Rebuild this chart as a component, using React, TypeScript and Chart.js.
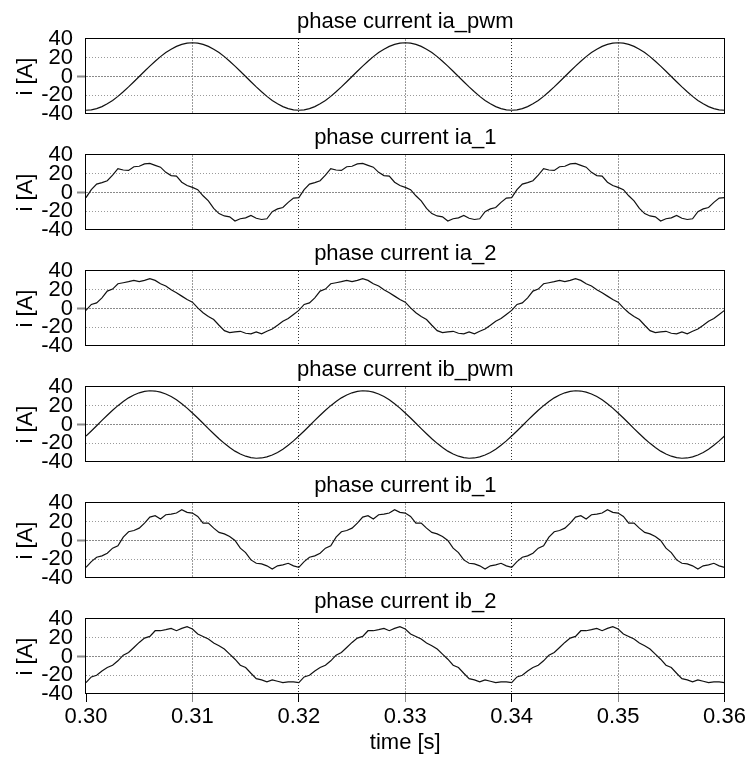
import React, { useEffect, useRef } from "react";
import { Chart, registerables } from "chart.js";

Chart.register(...registerables);

const time = [
  0.3, 0.3005, 0.301, 0.3015, 0.302, 0.3025, 0.303, 0.3035, 0.304, 0.3045,
  0.305, 0.3055, 0.306, 0.3065, 0.307, 0.3075, 0.308, 0.3085, 0.309, 0.3095,
  0.31, 0.3105, 0.311, 0.3115, 0.312, 0.3125, 0.313, 0.3135, 0.314, 0.3145,
  0.315, 0.3155, 0.316, 0.3165, 0.317, 0.3175, 0.318, 0.3185, 0.319, 0.3195,
  0.32, 0.3205, 0.321, 0.3215, 0.322, 0.3225, 0.323, 0.3235, 0.324, 0.3245,
  0.325, 0.3255, 0.326, 0.3265, 0.327, 0.3275, 0.328, 0.3285, 0.329, 0.3295,
  0.33, 0.3305, 0.331, 0.3315, 0.332, 0.3325, 0.333, 0.3335, 0.334, 0.3345,
  0.335, 0.3355, 0.336, 0.3365, 0.337, 0.3375, 0.338, 0.3385, 0.339, 0.3395,
  0.34, 0.3405, 0.341, 0.3415, 0.342, 0.3425, 0.343, 0.3435, 0.344, 0.3445,
  0.345, 0.3455, 0.346, 0.3465, 0.347, 0.3475, 0.348, 0.3485, 0.349, 0.3495,
  0.35, 0.3505, 0.351, 0.3515, 0.352, 0.3525, 0.353, 0.3535, 0.354, 0.3545,
  0.355, 0.3555, 0.356, 0.3565, 0.357, 0.3575, 0.358, 0.3585, 0.359, 0.3595,
  0.36,
];

const iaPwm = [
  -36.0, -35.6, -34.2, -32.1, -29.1, -25.5, -21.2, -16.3, -11.1, -5.6,
  0.0, 5.6, 11.1, 16.3, 21.2, 25.5, 29.1, 32.1, 34.2, 35.6,
  36.0, 35.6, 34.2, 32.1, 29.1, 25.5, 21.2, 16.3, 11.1, 5.6,
  0.0, -5.6, -11.1, -16.3, -21.2, -25.5, -29.1, -32.1, -34.2, -35.6,
  -36.0, -35.6, -34.2, -32.1, -29.1, -25.5, -21.2, -16.3, -11.1, -5.6,
  0.0, 5.6, 11.1, 16.3, 21.2, 25.5, 29.1, 32.1, 34.2, 35.6,
  36.0, 35.6, 34.2, 32.1, 29.1, 25.5, 21.2, 16.3, 11.1, 5.6,
  0.0, -5.6, -11.1, -16.3, -21.2, -25.5, -29.1, -32.1, -34.2, -35.6,
  -36.0, -35.6, -34.2, -32.1, -29.1, -25.5, -21.2, -16.3, -11.1, -5.6,
  0.0, 5.6, 11.1, 16.3, 21.2, 25.5, 29.1, 32.1, 34.2, 35.6,
  36.0, 35.6, 34.2, 32.1, 29.1, 25.5, 21.2, 16.3, 11.1, 5.6,
  0.0, -5.6, -11.1, -16.3, -21.2, -25.5, -29.1, -32.1, -34.2, -35.6,
  -36.0,
];

const ia1 = [
  -5.5, 3, 9, 10.5, 12.5, 18.5, 25.5, 24, 23.5, 27.5,
  28, 30.5, 31, 29, 27, 21.5, 18, 17.5, 11, 7.5,
  5.5, 3, -3.5, -9, -17, -22.5, -25, -26, -30.5, -28,
  -27, -24.5, -27.5, -28.8, -28, -20.5, -17.5, -16, -10.5, -6,
  -5.5, 3, 9, 10.5, 12.5, 18.5, 25.5, 24, 23.5, 27.5,
  28, 30.5, 31, 29, 27, 21.5, 18, 17.5, 11, 7.5,
  5.5, 3, -3.5, -9, -17, -22.5, -25, -26, -30.5, -28,
  -27, -24.5, -27.5, -28.8, -28, -20.5, -17.5, -16, -10.5, -6,
  -5.5, 3, 9, 10.5, 12.5, 18.5, 25.5, 24, 23.5, 27.5,
  28, 30.5, 31, 29, 27, 21.5, 18, 17.5, 11, 7.5,
  5.5, 3, -3.5, -9, -17, -22.5, -25, -26, -30.5, -28,
  -27, -24.5, -27.5, -28.8, -28, -20.5, -17.5, -16, -10.5, -6,
  -5.5,
];

const ia2 = [
  -2, 4.3, 6, 11.4, 18.6, 20.7, 26.4, 27.5, 28.6, 30,
  28.6, 30, 31.8, 30, 26.4, 24, 20, 16.8, 13.2, 9.6,
  6.8, 0.7, -4.6, -8.6, -11.8, -17.9, -23.6, -25.7, -25, -24.3,
  -26.4, -27, -25, -27, -24.3, -21.8, -17.9, -13.6, -10.7, -6.4,
  -2, 4.3, 6, 11.4, 18.6, 20.7, 26.4, 27.5, 28.6, 30,
  28.6, 30, 31.8, 30, 26.4, 24, 20, 16.8, 13.2, 9.6,
  6.8, 0.7, -4.6, -8.6, -11.8, -17.9, -23.6, -25.7, -25, -24.3,
  -26.4, -27, -25, -27, -24.3, -21.8, -17.9, -13.6, -10.7, -6.4,
  -2, 4.3, 6, 11.4, 18.6, 20.7, 26.4, 27.5, 28.6, 30,
  28.6, 30, 31.8, 30, 26.4, 24, 20, 16.8, 13.2, 9.6,
  6.8, 0.7, -4.6, -8.6, -11.8, -17.9, -23.6, -25.7, -25, -24.3,
  -26.4, -27, -25, -27, -24.3, -21.8, -17.9, -13.6, -10.7, -6.4,
  -2,
];

const ibPwm = [
  -12.3, -6.9, -1.3, 4.4, 9.9, 15.2, 20.1, 24.6, 28.4, 31.5,
  33.8, 35.3, 36.0, 35.7, 34.6, 32.6, 29.8, 26.3, 22.2, 17.5,
  12.3, 6.9, 1.3, -4.4, -9.9, -15.2, -20.1, -24.6, -28.4, -31.5,
  -33.8, -35.3, -36.0, -35.7, -34.6, -32.6, -29.8, -26.3, -22.2, -17.5,
  -12.3, -6.9, -1.3, 4.4, 9.9, 15.2, 20.1, 24.6, 28.4, 31.5,
  33.8, 35.3, 36.0, 35.7, 34.6, 32.6, 29.8, 26.3, 22.2, 17.5,
  12.3, 6.9, 1.3, -4.4, -9.9, -15.2, -20.1, -24.6, -28.4, -31.5,
  -33.8, -35.3, -36.0, -35.7, -34.6, -32.6, -29.8, -26.3, -22.2, -17.5,
  -12.3, -6.9, -1.3, 4.4, 9.9, 15.2, 20.1, 24.6, 28.4, 31.5,
  33.8, 35.3, 36.0, 35.7, 34.6, 32.6, 29.8, 26.3, 22.2, 17.5,
  12.3, 6.9, 1.3, -4.4, -9.9, -15.2, -20.1, -24.6, -28.4, -31.5,
  -33.8, -35.3, -36.0, -35.7, -34.6, -32.6, -29.8, -26.3, -22.2, -17.5,
  -12.3,
];

const ib1 = [
  -28.6, -22.5, -17.9, -16.4, -13.6, -8.2, -5.7, 3.6, 9.3, 10.7,
  13.2, 18.6, 25, 26.4, 22.9, 27.5, 28.2, 29.3, 32.9, 30,
  29.3, 25.7, 18.6, 18.6, 13.2, 8.6, 7.1, 4.3, 0, -8.2,
  -12.9, -20.7, -24.3, -25, -27, -30.4, -27, -26, -24.3, -27,
  -28.6, -22.5, -17.9, -16.4, -13.6, -8.2, -5.7, 3.6, 9.3, 10.7,
  13.2, 18.6, 25, 26.4, 22.9, 27.5, 28.2, 29.3, 32.9, 30,
  29.3, 25.7, 18.6, 18.6, 13.2, 8.6, 7.1, 4.3, 0, -8.2,
  -12.9, -20.7, -24.3, -25, -27, -30.4, -27, -26, -24.3, -27,
  -28.6, -22.5, -17.9, -16.4, -13.6, -8.2, -5.7, 3.6, 9.3, 10.7,
  13.2, 18.6, 25, 26.4, 22.9, 27.5, 28.2, 29.3, 32.9, 30,
  29.3, 25.7, 18.6, 18.6, 13.2, 8.6, 7.1, 4.3, 0, -8.2,
  -12.9, -20.7, -24.3, -25, -27, -30.4, -27, -26, -24.3, -27,
  -28.6,
];

const ib2 = [
  -27.9, -21.8, -20, -15.4, -11.8, -9.3, -4.6, 1.4, 4.3, 9.6,
  15, 19.6, 21.4, 27.5, 27.5, 28.6, 30, 27.5, 30, 31.8,
  29.3, 24, 21.4, 18.6, 14.3, 11.4, 7.9, 2.5, -2.9, -9.3,
  -11.8, -17.9, -23.6, -25, -27.1, -25, -26.4, -27.9, -27.1, -27.1,
  -27.9, -21.8, -20, -15.4, -11.8, -9.3, -4.6, 1.4, 4.3, 9.6,
  15, 19.6, 21.4, 27.5, 27.5, 28.6, 30, 27.5, 30, 31.8,
  29.3, 24, 21.4, 18.6, 14.3, 11.4, 7.9, 2.5, -2.9, -9.3,
  -11.8, -17.9, -23.6, -25, -27.1, -25, -26.4, -27.9, -27.1, -27.1,
  -27.9, -21.8, -20, -15.4, -11.8, -9.3, -4.6, 1.4, 4.3, 9.6,
  15, 19.6, 21.4, 27.5, 27.5, 28.6, 30, 27.5, 30, 31.8,
  29.3, 24, 21.4, 18.6, 14.3, 11.4, 7.9, 2.5, -2.9, -9.3,
  -11.8, -17.9, -23.6, -25, -27.1, -25, -26.4, -27.9, -27.1, -27.1,
  -27.9,
];

const titles = [
  "phase current ia_pwm",
  "phase current ia_1",
  "phase current ia_2",
  "phase current ib_pwm",
  "phase current ib_1",
  "phase current ib_2",
];
const seriesList = [iaPwm, ia1, ia2, ibPwm, ib1, ib2];
const yTicks = { min: -40, max: 40, step: 20 };
const xTicks = { min: 0.3, max: 0.36, step: 0.01 };
const yAxisTitle = "i [A]";
const xAxisTitle = "time [s]";

// ---- layout ----
const W = 748;
const H = 758;
const FIRST_TOP = 39;
const STEP = 116;
const PLOT_H = 75;
const TITLE_SPACE = 40;
const BELOW = 20;
const FONT = "'Liberation Sans', Arial, sans-serif";

const framePlugin = {
  id: "frame",
  afterDraw(chart: any) {
    const { ctx, chartArea } = chart;
    const l = Math.round(chartArea.left);
    const t = Math.round(chartArea.top);
    const r = Math.round(chartArea.right);
    const b = Math.round(chartArea.bottom);
    ctx.save();
    ctx.strokeStyle = "#000";
    ctx.lineWidth = 1;
    ctx.setLineDash([]);
    ctx.strokeRect(l - 0.5, t - 0.5, r - l, b - t);
    ctx.restore();
  },
};

function Panel({ index }: { index: number }) {
  const ref = useRef<HTMLCanvasElement>(null);
  const last = index === titles.length - 1;
  const top = FIRST_TOP + index * STEP - TITLE_SPACE;
  const height = last ? H - top : TITLE_SPACE + PLOT_H + BELOW;
  const xAxisH = last ? H - (FIRST_TOP + index * STEP + PLOT_H) - top + top : 0;

  useEffect(() => {
    if (!ref.current) return;
    const values = seriesList[index];
    const chart = new Chart(ref.current, {
      type: "line",
      data: {
        datasets: [
          {
            data: time.map((t, i) => ({ x: t, y: values[i] })),
            borderColor: "#111",
            borderWidth: 1.2,
            pointRadius: 0,
            tension: 0,
            fill: false,
          },
        ],
      },
      options: {
        animation: false,
        responsive: false,
        devicePixelRatio: 1,
        layout: { padding: { left: 0, right: W - 724.5, top: 0, bottom: last ? 0 : BELOW } },
        plugins: {
          legend: { display: false },
          tooltip: { enabled: false },
          title: {
            display: true,
            text: titles[index],
            fullSize: false,
            color: "#000",
            font: { family: FONT, size: 22, weight: "normal" },
            padding: { top: 10, bottom: 3.6 },
          },
        },
        scales: {
          x: {
            type: "linear",
            min: xTicks.min,
            max: xTicks.max,
            ticks: {
              display: last,
              stepSize: xTicks.step,
              autoSkip: false,
              maxRotation: 0,
              color: "#000",
              font: { family: FONT, size: 22 },
              padding: 2,
              callback: (v: any) => Number(v).toFixed(2),
            },
            grid: {
              drawTicks: last,
              tickLength: 8,
              lineWidth: 1,
              color: (c: any) =>
                c.index === 0 || c.index === 6 ? "rgba(0,0,0,0)" : c.index % 2 === 1 ? "#9a9a9a" : "#333",
              tickColor: (c: any) => (c.index % 2 === 1 ? "#888" : "#000"),
            },
            border: {
              display: false,
              dash: (c: any) => (c.index % 2 === 1 ? [2, 1] : [1, 2]),
            },
            title: {
              display: last,
              text: xAxisTitle,
              color: "#000",
              font: { family: FONT, size: 22 },
              padding: { top: 0, bottom: 1.5 },
            },
            afterFit: (s: any) => {
              s.height = last ? xAxisH : 0;
            },
          },
          y: {
            min: yTicks.min,
            max: yTicks.max,
            ticks: {
              stepSize: yTicks.step,
              autoSkip: false,
              color: "#000",
              font: { family: FONT, size: 22 },
              padding: 4,
            },
            grid: {
              drawTicks: true,
              tickLength: 9,
              lineWidth: 1,
              color: (c: any) =>
                c.index === 0 || c.index === 4 ? "rgba(0,0,0,0)" : c.index === 2 ? "#8a8a8a" : "#9a9a9a",
              tickColor: (c: any) => (c.index === 2 ? "#888" : "rgba(0,0,0,0)"),
              tickWidth: 2,
            },
            border: {
              display: false,
              dash: (c: any) => (c.index === 2 ? [2, 1] : [1, 2]),
            },
            title: {
              display: true,
              text: yAxisTitle,
              color: "#000",
              font: { family: FONT, size: 22 },
              padding: { top: 13, bottom: 0 },
            },
            afterFit: (s: any) => {
              s.width = 86;
            },
          },
        },
      },
      plugins: [framePlugin],
    } as any);
    return () => chart.destroy();
  }, [index]);

  return (
    <canvas
      ref={ref}
      width={W}
      height={height}
      style={{ position: "absolute", left: 0, top, width: W, height }}
    />
  );
}

export default function App() {
  return (
    <div
      style={{
        position: "absolute",
        left: 0,
        top: 0,
        width: W,
        height: H,
        background: "#fff",
        overflow: "hidden",
      }}
    >
      {titles.map((_, i) => (
        <Panel key={i} index={i} />
      ))}
    </div>
  );
}
